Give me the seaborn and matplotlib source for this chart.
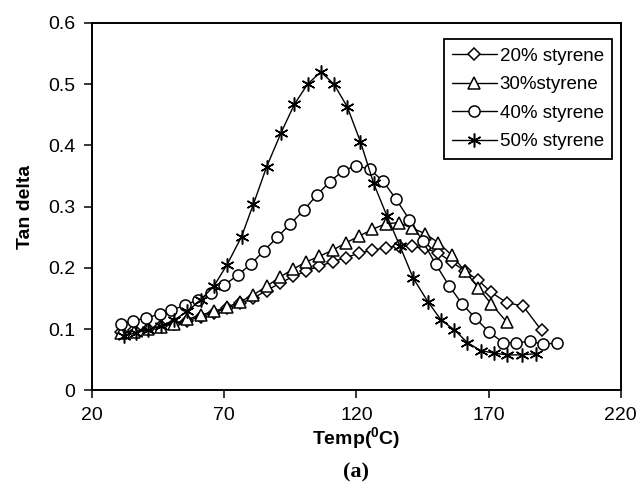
import numpy as np
import pandas as pd
import matplotlib
matplotlib.use("Agg")
import matplotlib.pyplot as plt
import seaborn as sns

# temperatures (deg C) and tan delta values
t20 = [31, 36, 41, 46, 51, 56, 61, 66, 71, 76, 81, 86, 91, 96, 101, 106, 111, 116,
       121, 126, 131, 136, 141, 146, 151, 156, 161, 166, 171, 177, 183, 190]
v20 = [0.095, 0.098, 0.101, 0.105, 0.109, 0.114, 0.120, 0.127, 0.134, 0.142, 0.151,
       0.163, 0.175, 0.186, 0.195, 0.203, 0.210, 0.217, 0.224, 0.229, 0.233, 0.236,
       0.235, 0.232, 0.224, 0.210, 0.195, 0.180, 0.160, 0.143, 0.138, 0.098]

t30 = [31, 36, 41, 46, 51, 56, 61, 66, 71, 76, 81, 86, 91, 96, 101, 106, 111, 116,
       121, 126, 131, 136, 141, 146, 151, 156, 161, 166, 171, 177]
v30 = [0.093, 0.096, 0.100, 0.104, 0.109, 0.116, 0.123, 0.129, 0.136, 0.145, 0.156,
       0.170, 0.185, 0.198, 0.210, 0.219, 0.229, 0.241, 0.252, 0.263, 0.272, 0.274,
       0.265, 0.256, 0.241, 0.221, 0.195, 0.168, 0.141, 0.111]

t40 = [31, 35.5, 40.5, 45.5, 50, 55, 60, 65, 70, 75, 80, 85, 90, 95, 100, 105, 110,
       115, 120, 125, 130, 135, 140, 145, 150, 155, 160, 165, 170, 175.5, 180.5,
       185.5, 190.5, 196]
v40 = [0.108, 0.114, 0.118, 0.125, 0.131, 0.139, 0.148, 0.159, 0.172, 0.188, 0.206,
       0.228, 0.250, 0.272, 0.294, 0.319, 0.341, 0.359, 0.367, 0.361, 0.342, 0.312,
       0.279, 0.244, 0.206, 0.171, 0.141, 0.118, 0.096, 0.078, 0.078, 0.080, 0.076,
       0.077]

t50 = [32, 36.5, 41, 46, 51, 56, 61, 66, 71, 76.5, 81, 86, 91.5, 96.5, 101.5, 106.5,
       111.5, 116.5, 121.5, 126.5, 131.5, 136.5, 141.5, 147, 152, 157, 162, 167, 172,
       177, 182.5, 188]
v50 = [0.089, 0.094, 0.099, 0.105, 0.115, 0.129, 0.148, 0.170, 0.205, 0.251, 0.304,
       0.365, 0.421, 0.467, 0.500, 0.520, 0.500, 0.463, 0.406, 0.338, 0.285, 0.235,
       0.183, 0.145, 0.115, 0.099, 0.078, 0.065, 0.061, 0.058, 0.058, 0.060]

labels = ["20% styrene", "30%styrene", "40% styrene", "50% styrene"]


def main():
    sns.set_theme(style="white")
    plt.rcParams.update({
        "font.family": ["Liberation Sans", "DejaVu Sans"],
        "mathtext.fontset": "custom",
        "mathtext.rm": "Liberation Sans",
        "mathtext.bf": "Liberation Sans:bold",
        "text.color": "black",
        "axes.labelcolor": "black",
        "axes.edgecolor": "black",
        "axes.linewidth": 1.4,
        "xtick.color": "black",
        "ytick.color": "black",
    })

    fig = plt.figure(figsize=(6.4, 4.98), dpi=100)
    ax = fig.add_axes([0.144, 0.216, 0.826, 0.738])

    series = [
        (t20, v20, "D", 6),
        (t30, v30, "^", 8),
        (t40, v40, "o", 8),
        (t50, v50, (6, 2, 0), 10),
    ]
    for (t, v, mk, ms), lab in zip(series, labels):
        df = pd.DataFrame({"temp": t, "tan": v})
        sns.lineplot(data=df, x="temp", y="tan", ax=ax, color="black", lw=1.0,
                     marker=mk, markersize=ms, markerfacecolor="white",
                     markeredgecolor="black", markeredgewidth=1.1, label=lab)

    ax.set_xlim(20, 220)
    ax.set_ylim(0, 0.6)
    ax.set_xticks([20, 70, 120, 170, 220])
    ax.set_yticks(np.arange(0, 0.61, 0.1))
    ax.set_yticklabels(["0", "0.1", "0.2", "0.3", "0.4", "0.5", "0.6"])
    ax.tick_params(direction="out", length=6, width=1.1, labelsize=14, pad=6,
                   left=True, bottom=True)

    ax.set_xlabel(r"Temp($\mathbf{^{0}}$C)", fontsize=14, fontweight="bold",
                  labelpad=1)
    ax.set_ylabel("Tan delta", fontsize=14, fontweight="bold", labelpad=10)

    leg = ax.legend(loc="upper right", bbox_to_anchor=(0.984, 0.955), fontsize=13.5,
                    frameon=True, fancybox=False, edgecolor="black",
                    handlelength=2.4, handletextpad=0.15, labelspacing=0.6,
                    borderpad=0.45, borderaxespad=0)
    leg.get_frame().set_linewidth(1.3)
    leg.get_frame().set_alpha(1)

    fig.text(0.557, 0.052, "(a)", ha="center", va="center", fontsize=16,
             fontweight="bold", family=["Liberation Serif", "DejaVu Serif"])

    fig.savefig("out.png", dpi=100)
    plt.close(fig)


if __name__ == "__main__":
    main()
